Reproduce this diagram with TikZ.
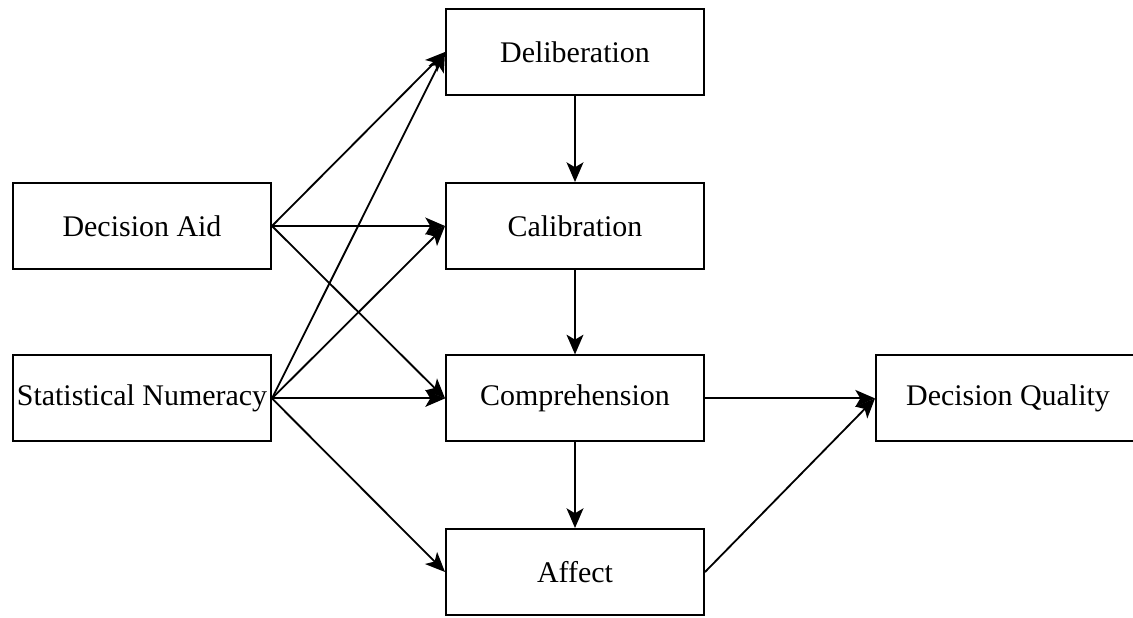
\documentclass[tikz,border=0pt]{standalone}
\usepackage{fontspec}
\setmainfont{Liberation Serif}
\usetikzlibrary{arrows.meta}
\begin{document}
\begin{tikzpicture}[
      b/.style={draw, line width=1.4pt, minimum width=6.45cm, minimum height=2.15cm,
        inner sep=0pt, font=\fontsize{21.3}{25}\selectfont},
      e/.style={line width=1.3pt, -{Stealth[length=14pt, width=12pt, inset=3.5pt]}}]
      \useasboundingbox (0,0) rectangle (28.325,-15.45);
      \node[b] (delib) at (14.375,-1.3) {Deliberation};
      \node[b] (calib) at (14.375,-5.65) {Calibration};
      \node[b] (compr) at (14.375,-9.96) {Comprehension};
      \node[b] (affect) at (14.375,-14.3) {Affect};
      \node[b] (aid) at (3.55,-5.65) {Decision Aid};
      \node[b] (numer) at (3.55,-9.96) {Statistical Numeracy};
      \node[b, minimum width=6.8cm] (quality) at (25.3,-9.96) {\hspace*{-0.2cm}Decision Quality};
      \draw[e] (aid.east) -- (delib.west);
      \draw[e] (aid.east) -- (calib.west);
      \draw[e] (aid.east) -- (compr.west);
      \draw[e] (numer.east) -- (delib.west);
      \draw[e] (numer.east) -- (calib.west);
      \draw[e] (numer.east) -- (compr.west);
      \draw[e] (numer.east) -- (affect.west);
      \draw[e] (delib) -- (calib);
      \draw[e] (calib) -- (compr);
      \draw[e] (compr) -- (affect);
      \draw[e] (compr) -- (quality);
      \draw[e] (affect.east) -- (quality.west);
\end{tikzpicture}
\end{document}
